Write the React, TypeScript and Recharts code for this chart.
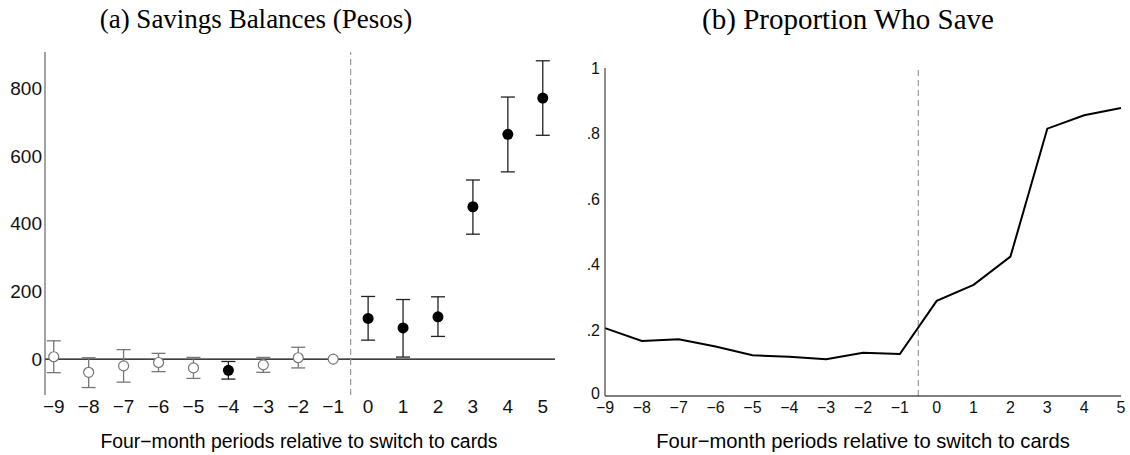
import React from 'react';
import {
  ScatterChart,
  Scatter,
  ErrorBar,
  LineChart,
  Line,
  XAxis,
  YAxis,
  ReferenceLine,
} from 'recharts';

// Four-month periods relative to the switch (0 = first period with cards)
const PERIODS = [-9, -8, -7, -6, -5, -4, -3, -2, -1, 0, 1, 2, 3, 4, 5];

// Panel (a): savings balance estimates with 95% CI bounds
const BALANCE = [7, -39, -20, -10, -26, -33, -17, 4, 0, 120, 92, 125, 450, 664, 771];
const BALANCE_LO = [-40, -84, -68, -37, -57, -59, -39, -26, 0, 56, 6, 67, 369, 553, 661];
const BALANCE_HI = [54, 4, 28, 17, 5, -7, 5, 35, 0, 185, 176, 184, 529, 774, 881];
const SIGNIFICANT = [false, false, false, false, false, true, false, false, false, true, true, true, true, true, true];
const BALANCE_TICKS = [0, 200, 400, 600, 800];

// Panel (b): share of account holders with positive savings
const PROPORTION = [0.207, 0.168, 0.173, 0.151, 0.124, 0.12, 0.112, 0.132, 0.128, 0.29, 0.339, 0.425, 0.815, 0.856, 0.878];
const PROPORTION_TICKS = [0, 0.2, 0.4, 0.6, 0.8, 1];

const X_LABEL = 'Four\u2212month periods relative to switch to cards';
const SANS = '"Liberation Sans", Arial, sans-serif';
const SERIF = '"Liberation Serif", "Times New Roman", serif';

const points = PERIODS.map((x, i) => ({
  x,
  y: BALANCE[i],
  err: [BALANCE[i] - BALANCE_LO[i], BALANCE_HI[i] - BALANCE[i]],
  sig: SIGNIFICANT[i],
  base: BALANCE_LO[i] === BALANCE_HI[i],
}));
const filledPts = points.filter((p) => p.sig);
const openPts = points.filter((p) => !p.sig && !p.base);
const basePts = points.filter((p) => p.base);

const shareData = PERIODS.map((x, i) => ({ x, share: PROPORTION[i] }));

const fmtPeriod = (v: number) => (v < 0 ? `\u2212${Math.abs(v)}` : `${v}`);
const fmtShare = (v: number) => (v === 0 ? '0' : v === 1 ? '1' : String(v).replace('0.', '.'));

const OpenDot = (props: any) => (
  <circle cx={props.cx} cy={props.cy} r={5} fill="#fff" stroke="#777" strokeWidth={1.2} />
);
const FilledDot = (props: any) => <circle cx={props.cx} cy={props.cy} r={5.5} fill="#000" />;

// y tick for panel (b); the bottom "0" sits a little above the x axis
const ShareTick = (props: any) => {
  const { x, y, payload } = props;
  const lift = payload.value === 0 ? -3 : 0;
  return (
    <text x={x} y={y + lift} dy="0.355em" textAnchor="end" fontSize={16} fill="#111" fontFamily={SANS}>
      {fmtShare(payload.value)}
    </text>
  );
};

const caption = (text: string, cx: number, cy: number, font: string, size: number) => (
  <div
    style={{
      position: 'absolute',
      left: cx - 300,
      top: cy - size,
      width: 600,
      height: size * 2,
      lineHeight: `${size * 2}px`,
      textAlign: 'center',
      fontFamily: font,
      fontSize: size,
      color: '#000',
      whiteSpace: 'nowrap',
    }}
  >
    {text}
  </div>
);

export default function App() {
  return (
    <div style={{ position: 'absolute', left: 0, top: 0, width: 1130, height: 455, background: '#fff' }}>
      {caption('(a) Savings Balances (Pesos)', 256, 19, SERIF, 27)}
      {caption('(b) Proportion Who Save', 848, 19, SERIF, 29)}

      {/* Panel (a): event-study coefficients */}
      <div style={{ position: 'absolute', left: 0, top: 0 }}>
        <ScatterChart width={565} height={455} margin={{ top: 52, right: 10, bottom: 30, left: 0 }}>
          <XAxis
            type="number"
            dataKey="x"
            domain={[-9.25, 5.35]}
            ticks={PERIODS}
            interval={0}
            allowDataOverflow
            axisLine={false}
            tickLine={false}
            tickSize={3}
            height={30}
            tickFormatter={fmtPeriod}
            tick={{ fontSize: 19, fill: '#111', fontFamily: SANS }}
          />
          <YAxis
            type="number"
            dataKey="y"
            domain={[-106, 907]}
            ticks={BALANCE_TICKS}
            interval={0}
            allowDataOverflow
            width={45}
            axisLine={{ stroke: '#666', strokeWidth: 1.2 }}
            tickLine={false}
            tickSize={1}
            tick={{ fontSize: 19, fill: '#111', fontFamily: SANS }}
          />
          <ReferenceLine y={0} stroke="#000" strokeWidth={1.2} />
          <ReferenceLine x={-0.5} stroke="#999" strokeDasharray="6 4" strokeWidth={1.2} />
          <Scatter data={openPts} shape={OpenDot} isAnimationActive={false}>
            <ErrorBar dataKey="err" direction="y" width={7} stroke="#777" strokeWidth={1.3} />
          </Scatter>
          <Scatter data={basePts} shape={OpenDot} isAnimationActive={false} />
          <Scatter data={filledPts} shape={FilledDot} isAnimationActive={false}>
            <ErrorBar dataKey="err" direction="y" width={7} stroke="#222" strokeWidth={1.3} />
          </Scatter>
        </ScatterChart>
      </div>

      {/* Panel (b): share who save */}
      <div style={{ position: 'absolute', left: 565, top: 0 }}>
        <LineChart width={565} height={455} data={shareData} margin={{ top: 68, right: 9, bottom: 29, left: 0 }}>
          <XAxis
            type="number"
            dataKey="x"
            domain={[-9, 5]}
            ticks={PERIODS}
            interval={0}
            axisLine={{ stroke: '#000', strokeWidth: 1.2 }}
            tickLine={false}
            tickSize={4}
            height={30}
            tickFormatter={fmtPeriod}
            tick={{ fontSize: 16, fill: '#111', fontFamily: SANS }}
          />
          <YAxis
            type="number"
            domain={[0, 1]}
            ticks={PROPORTION_TICKS}
            interval={0}
            width={40}
            axisLine={{ stroke: '#444', strokeWidth: 1.2 }}
            tickLine={false}
            tickSize={3}
            tick={<ShareTick />}
          />
          <ReferenceLine x={-0.5} stroke="#999" strokeDasharray="6 4" strokeWidth={1.2} />
          <Line
            type="linear"
            dataKey="share"
            stroke="#000"
            strokeWidth={2}
            dot={false}
            isAnimationActive={false}
          />
        </LineChart>
      </div>

      {caption(X_LABEL, 299, 441, SANS, 19.4)}
      {caption(X_LABEL, 863, 441, SANS, 20.2)}
    </div>
  );
}
